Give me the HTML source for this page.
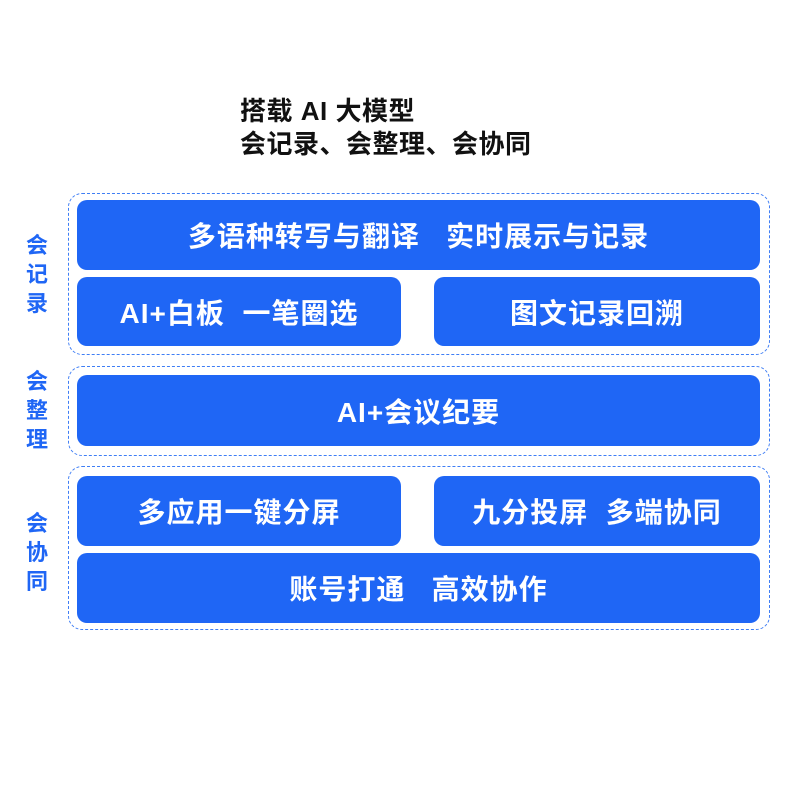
<!DOCTYPE html>
<html><head><meta charset="utf-8"><style>
body{margin:0;width:800px;height:800px;background:#fff;position:relative;font-family:"Liberation Sans","Noto Sans CJK SC",sans-serif;overflow:hidden}
.t{position:absolute;left:240px;font-weight:bold;font-size:26px;letter-spacing:0.5px;color:#111;line-height:31px}
.d{position:absolute;left:68px;width:702px;border:1.5px dashed #3f7ef5;border-radius:14px;box-sizing:border-box}
.b{position:absolute;background:#1f66f5;border-radius:10px;color:#fff;font-weight:bold;font-size:28px;letter-spacing:1px;display:flex;align-items:center;justify-content:center;white-space:pre}
.s{position:absolute;left:22px;width:30px;color:#1f66f5;font-weight:bold;font-size:22px;line-height:29px;text-align:center}
</style></head><body>
<div class="t" style="top:96px">搭载 AI 大模型</div>
<div class="t" style="top:129px">会记录、会整理、会协同</div>
<div class="d" style="top:193px;height:162px"></div>
<div class="d" style="top:366px;height:90px"></div>
<div class="d" style="top:466px;height:164px"></div>
<div class="s" style="top:231px">会<br>记<br>录</div>
<div class="s" style="top:367px">会<br>整<br>理</div>
<div class="s" style="top:509px">会<br>协<br>同</div>
<div class="b" style="left:77px;top:200px;width:683px;height:70px">多语种转写与翻译   实时展示与记录</div>
<div class="b" style="left:77px;top:277px;width:324px;height:69px">AI+白板  一笔圈选</div>
<div class="b" style="left:434px;top:277px;width:326px;height:69px">图文记录回溯</div>
<div class="b" style="left:77px;top:375px;width:683px;height:71px">AI+会议纪要</div>
<div class="b" style="left:77px;top:476px;width:324px;height:70px">多应用一键分屏</div>
<div class="b" style="left:434px;top:476px;width:326px;height:70px">九分投屏  多端协同</div>
<div class="b" style="left:77px;top:553px;width:683px;height:70px">账号打通   高效协作</div>
</body></html>
